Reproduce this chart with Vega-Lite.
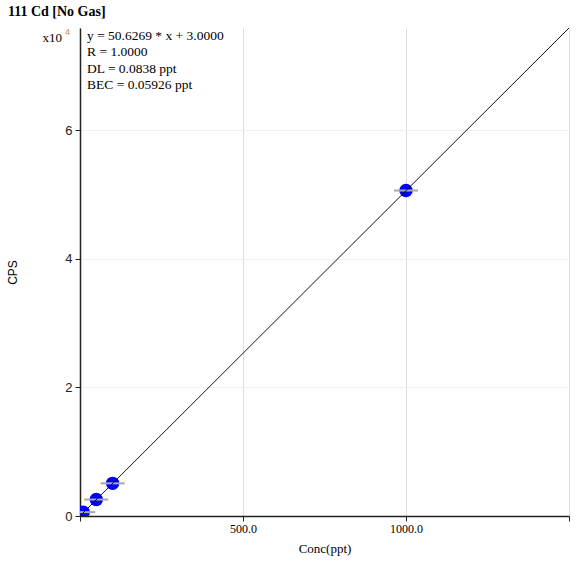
{
  "$schema": "https://vega.github.io/schema/vega-lite/v6.json",
  "width": 489,
  "height": 488,
  "autosize": "none",
  "padding": {"left": 80, "top": 28, "right": 18, "bottom": 47},
  "background": "white",
  "config": {"view": {"stroke": null}},
  "title": {
    "text": "111 Cd [No Gas]",
    "anchor": "start",
    "frame": "group",
    "dx": -72,
    "offset": 9,
    "font": "Liberation Serif",
    "fontSize": 14,
    "fontWeight": "bold",
    "letterSpacing": 1.4,
    "color": "#000000"
  },
  "datasets": {
    "fit": [{"conc": 0, "cps": 3}, {"conc": 1500, "cps": 75943}],
    "std": [
      {"conc": 10, "cps": 600},
      {"conc": 50, "cps": 2560},
      {"conc": 100, "cps": 5080},
      {"conc": 1000, "cps": 50650}
    ]
  },
  "layer": [
    {
      "data": {"name": "std"},
      "mark": {"type": "point", "shape": "circle", "filled": true, "color": "#0000ff", "opacity": 1, "size": 180, "clip": true},
      "encoding": {
        "x": {
          "field": "conc", "type": "quantitative",
          "scale": {"domain": [0, 1500], "nice": false, "zero": false},
          "axis": {
            "values": [0, 500, 1000, 1500],
            "labelExpr": "(datum.value == 500 || datum.value == 1000) ? format(datum.value, '.1f') : ''",
            "title": "Conc(ppt)",
            "titleFont": "Liberation Serif",
            "titleFontSize": 13,
            "titleFontWeight": "normal",
            "titleColor": "#000",
            "titleY": 26,
            "titleBaseline": "top",
            "labelFont": "Liberation Serif",
            "labelFontSize": 12,
            "labelColor": "#000",
            "labelPadding": 2,
            "tickSize": 5,
            "tickColor": "#222",
            "domainColor": "#222",
            "domainWidth": 1.5,
            "grid": true,
            "gridColor": "#dddddd",
            "gridWidth": 1
          }
        },
        "y": {
          "field": "cps", "type": "quantitative",
          "scale": {"domain": [0, 75943], "nice": false, "zero": false},
          "axis": {
            "values": [0, 20000, 40000, 60000],
            "labelExpr": "datum.value / 10000",
            "title": "CPS",
            "titleFont": "Liberation Sans",
            "titleFontSize": 12,
            "titleFontWeight": "normal",
            "titleColor": "#000",
            "titleX": -61,
            "labelFont": "Liberation Sans",
            "labelFontSize": 13,
            "labelColor": "#222",
            "labelPadding": 3,
            "tickSize": 5,
            "tickColor": "#222",
            "domainColor": "#222",
            "domainWidth": 1.5,
            "grid": true,
            "gridColor": "#f0f0f0",
            "gridWidth": 1
          }
        }
      }
    },
    {
      "data": {"name": "std"},
      "mark": {"type": "tick", "orient": "horizontal", "size": 24, "thickness": 2, "color": "#a9a9a9", "opacity": 1, "clip": true},
      "encoding": {
        "x": {"field": "conc", "type": "quantitative"},
        "y": {"field": "cps", "type": "quantitative"}
      }
    },
    {
      "data": {"name": "fit"},
      "mark": {"type": "line", "color": "#111111", "strokeWidth": 1, "clip": true},
      "encoding": {
        "x": {"field": "conc", "type": "quantitative"},
        "y": {"field": "cps", "type": "quantitative"}
      }
    },
    {
      "data": {"values": [{}]},
      "mark": {
        "type": "text",
        "align": "left",
        "baseline": "alphabetic",
        "font": "Liberation Serif",
        "fontSize": 13.5,
        "lineHeight": 16.3,
        "color": "#000",
        "text": ["y = 50.6269 * x + 3.0000", "R = 1.0000", "DL = 0.0838 ppt", "BEC = 0.05926 ppt"]
      },
      "encoding": {
        "x": {"datum": 21.5, "type": "quantitative"},
        "y": {"datum": 74075, "type": "quantitative"}
      }
    },
    {
      "data": {"values": [{}]},
      "mark": {"type": "text", "align": "right", "baseline": "alphabetic", "font": "Liberation Serif", "fontSize": 13, "color": "#000", "text": "x10", "clip": false},
      "encoding": {
        "x": {"datum": -55, "type": "quantitative"},
        "y": {"datum": 73765, "type": "quantitative"}
      }
    },
    {
      "data": {"values": [{}]},
      "mark": {"type": "text", "align": "left", "baseline": "alphabetic", "font": "Liberation Sans", "fontSize": 9, "color": "#d08a3c", "text": "4", "clip": false},
      "encoding": {
        "x": {"datum": -46, "type": "quantitative"},
        "y": {"datum": 74853, "type": "quantitative"}
      }
    }
  ]
}
